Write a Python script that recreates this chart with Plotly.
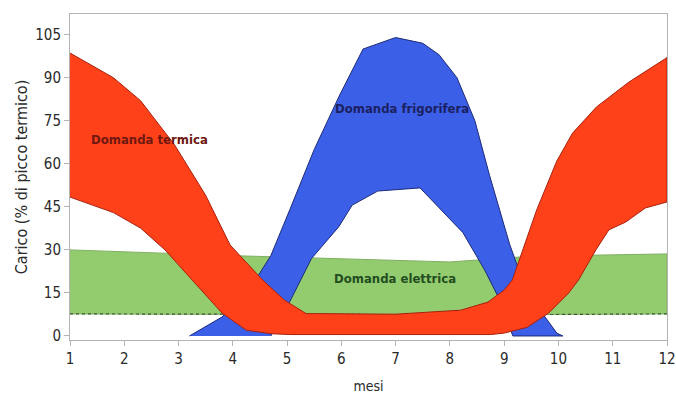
import plotly.graph_objects as go

# ---- data (months, % of thermal peak) ----
termica_x_upper = [1, 1.8, 2.3, 2.93, 3.5, 3.95, 4.55, 4.95, 5.35, 7.0, 8.2, 8.7, 9.0, 9.15, 9.6, 9.97, 10.26, 10.7, 11.3, 12]
termica_upper = [98.6, 90, 82, 66.5, 49, 31.7, 19.5, 12.5, 7.8, 7.6, 9.0, 11.8, 16, 19.5, 44, 61, 70.7, 79.8, 88.5, 97]
termica_x_lower = [1, 1.8, 2.3, 2.75, 3.25, 3.8, 4.25, 4.7, 5.05, 8.75, 9.0, 9.42, 9.82, 10.19, 10.37, 10.69, 10.93, 11.24, 11.6, 12]
termica_lower = [48.4, 43, 37.6, 30, 19.5, 8, 2, 0.8, 0.5, 0.5, 1, 3, 8, 15, 19.5, 30, 37, 39.7, 44.6, 46.7]

frig_x_outer = [3.2, 3.8, 4.3, 4.7, 5.05, 5.5, 5.97, 6.4, 7.0, 7.5, 7.8, 8.13, 8.46, 8.73, 9.1, 9.47, 9.7, 9.97, 10.08]
frig_outer = [0, 6.6, 16, 28, 44, 65, 84, 100, 104, 102, 98, 90, 75, 56, 32, 12.5, 8, 1, 0]
frig_x_inner = [4.7, 5.05, 5.45, 5.95, 6.2, 6.67, 7.45, 7.63, 8.24, 8.64, 8.92, 9.16]
frig_inner = [0, 12, 27, 38, 45.6, 50.5, 51.6, 48, 36, 23, 12.5, 0]

elet_x_upper = [1, 4, 8, 9.5, 12]
elet_upper = [30, 28, 25.8, 27.8, 28.6]
elet_x_lower = [1, 6, 9, 12]
elet_lower = [7.7, 7.4, 7.4, 7.7]

x_ticks = list(range(1, 13))
y_ticks = [0, 15, 30, 45, 60, 75, 90, 105]

labels = ["Domanda termica", "Domanda frigorifera", "Domanda elettrica"]
label_x = [2.47, 7.11, 6.99]
label_y = [68.3, 79.4, 19.9]


def band(xu, yu, xl, yl):
    return list(xu) + list(xl)[::-1], list(yu) + list(yl)[::-1]


fig = go.Figure()

# electric band (bottom layer)
bx, by = band(elet_x_upper, elet_upper, elet_x_lower, elet_lower)
fig.add_trace(go.Scatter(x=bx, y=by, fill="toself", fillcolor="#93cc6f",
                         line=dict(color="#7fae62", width=1), mode="lines",
                         showlegend=False, hoverinfo="skip"))
fig.add_trace(go.Scatter(x=elet_x_lower, y=elet_lower, mode="lines",
                         line=dict(color="#3c5a32", width=1.2, dash="dot"),
                         showlegend=False, hoverinfo="skip"))

# cooling band
bx, by = band(frig_x_outer, frig_outer, frig_x_inner, frig_inner)
fig.add_trace(go.Scatter(x=bx, y=by, fill="toself", fillcolor="#3c5fe8",
                         line=dict(color="#1c2a78", width=1), mode="lines",
                         showlegend=False, hoverinfo="skip"))

# thermal band (top layer)
bx, by = band(termica_x_upper, termica_upper, termica_x_lower, termica_lower)
fig.add_trace(go.Scatter(x=bx, y=by, fill="toself", fillcolor="#ff4119",
                         line=dict(color="#a8200e", width=1), mode="lines",
                         showlegend=False, hoverinfo="skip"))

txt_font = "DejaVu Sans Condensed, Liberation Sans Narrow, DejaVu Sans, sans-serif"
colors = ["#6e1810", "#1b2160", "#234d1e"]
for t, x, y, c in zip(labels, label_x, label_y, colors):
    fig.add_annotation(x=x, y=y, text="<b>" + t + "</b>", showarrow=False,
                       font=dict(family=txt_font, size=13, color=c))

fig.update_layout(
    width=676, height=394,
    margin=dict(l=70, r=9, t=14, b=54, autoexpand=False),
    paper_bgcolor="white", plot_bgcolor="white",
    font=dict(family=txt_font, color="#2a2a2a", size=15),
)
fig.update_xaxes(range=[1, 12], tickvals=x_ticks, ticktext=[str(v) for v in x_ticks],
                 showgrid=False, zeroline=False, showline=True, linecolor="#b4b4b4",
                 linewidth=1, mirror=True, ticks="outside", ticklen=5, tickcolor="#b4b4b4",
                 automargin=False,
                 title=dict(text="mesi", font=dict(size=14), standoff=14))
fig.update_yaxes(range=[-1.4, 112.2], tickvals=y_ticks, ticktext=[str(v) for v in y_ticks],
                 showgrid=False, zeroline=False, showline=True, linecolor="#b4b4b4",
                 linewidth=1, mirror=True, ticks="outside", ticklen=5, tickcolor="#b4b4b4",
                 automargin=False,
                 title=dict(text="Carico (% di picco termico)", font=dict(size=16), standoff=3))

# remove the browser's default body margin so the figure fills the window exactly
fig.write_html("out.html", config={"displayModeBar": False},
               post_script="document.body.style.margin='0';document.body.style.overflow='hidden';")
